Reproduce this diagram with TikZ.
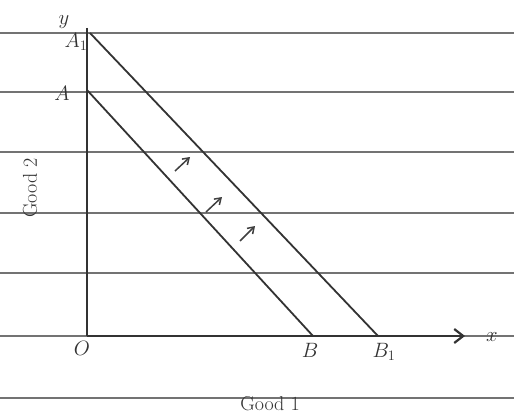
\documentclass[tikz,border=0pt]{standalone}
\usetikzlibrary{arrows.meta}
\begin{document}
\begin{tikzpicture}[x=1pt,y=-1pt,
  rule/.style={draw=black!55,line width=1.3pt},
  axis/.style={draw=black!80,line width=2.2pt},
  budget/.style={draw=black!80,line width=1.8pt},
  lbl/.style={font=\fontsize{20}{24}\selectfont,text=black!80},
  shiftarrow/.style={-{Straight Barb[length=6pt,width=8pt]},draw=black!75,line width=1.5pt}]
\useasboundingbox (0,0) rectangle (514,417);
\fill[white] (0,0) rectangle (514,417);
% ruled paper lines
\foreach \yy in {33,92,152,213,273,336,398}
  \draw[rule] (0,\yy) -- (514,\yy);
% axes
\coordinate (O) at (87,336);
\coordinate (Ytop) at (87,28);
\coordinate (Xend) at (465,336);
\draw[axis] (Ytop) -- (O);
\draw[axis,-{Straight Barb[length=9pt,width=14pt]}] (O) -- (Xend);
% budget lines
\coordinate (A) at (87,90);
\coordinate (A1) at (90,33);
\coordinate (B) at (313,336);
\coordinate (B1) at (378,336);
\draw[budget] (A) -- (B);
\draw[budget] (A1) -- (B1);
% shift arrows
\coordinate (s1a) at (175,171); \coordinate (s1b) at (190,157);
\coordinate (s2a) at (206,212); \coordinate (s2b) at (222,197);
\coordinate (s3a) at (240,241); \coordinate (s3b) at (255,226);
\draw[shiftarrow] (s1a) -- (s1b);
\draw[shiftarrow] (s2a) -- (s2b);
\draw[shiftarrow] (s3a) -- (s3b);
% labels
\node[lbl] (ylab) at (64,22) {$y$};
\node[lbl] (a1lab) at (76,42) {$A_1$};
\node[lbl] (alab) at (62,93) {$A$};
\node[lbl] (olab) at (82,348) {$O$};
\node[lbl] (blab) at (310,350) {$B$};
\node[lbl] (b1lab) at (384,352) {$B_1$};
\node[lbl] (xlab) at (492,337) {$x$};
\node[lbl] (g1) at (270,404) {Good 1};
\node[lbl,rotate=90] (g2) at (30,188) {Good 2};
\end{tikzpicture}
\end{document}
